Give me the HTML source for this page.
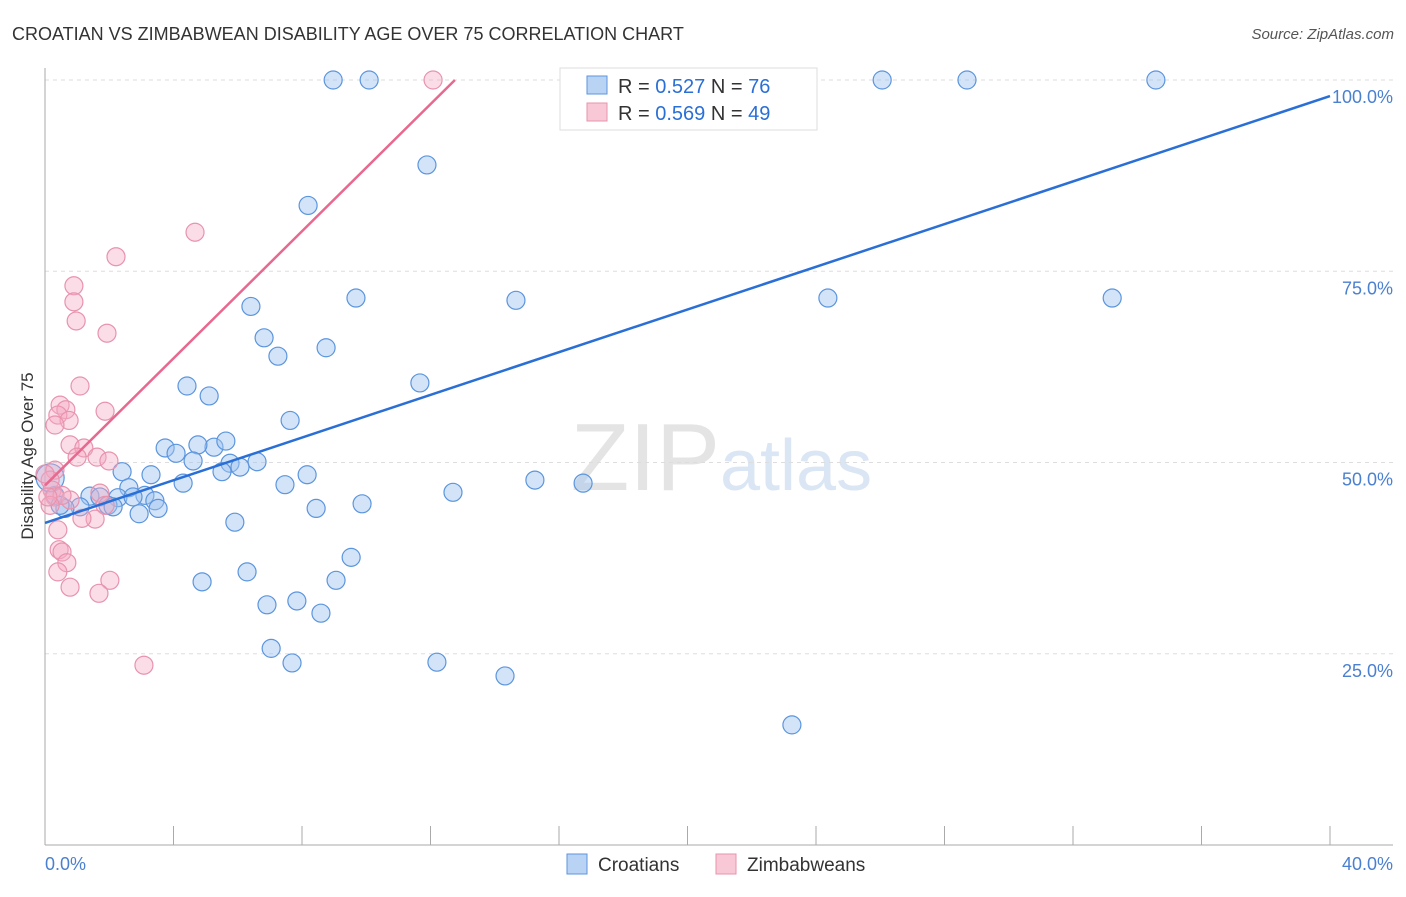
<!DOCTYPE html>
<html><head><meta charset="utf-8"><style>
body{margin:0;background:#fff;font-family:"Liberation Sans",sans-serif;}
svg text{font-family:"Liberation Sans",sans-serif;}
</style></head><body>
<svg id="chart" width="1406" height="892" xmlns="http://www.w3.org/2000/svg">
<text x="12" y="40" font-size="18" fill="#333">CROATIAN VS ZIMBABWEAN DISABILITY AGE OVER 75 CORRELATION CHART</text>
<text x="1394" y="39" font-size="15" fill="#555" text-anchor="end" font-style="italic">Source: ZipAtlas.com</text>
<text x="720" y="490" font-size="96" fill="#e4e4e4" text-anchor="end" font-family="Liberation Serif">ZIP</text>
<text x="720" y="490" font-size="72" fill="#dbe6f5">atlas</text>
<g id="grid"></g>
<g id="pts"></g>
<g id="lines"></g>
<g>
<rect x="560" y="68" width="257" height="62" fill="#fff" stroke="#ddd"/>
<rect x="587" y="76" width="20" height="18" fill="#b9d3f5" stroke="#5b95de"/>
<text x="618" y="93" font-size="20" fill="#333">R = <tspan fill="#2a6fd6">0.527</tspan>   N = <tspan fill="#2a6fd6">76</tspan></text>
<rect x="587" y="103" width="20" height="18" fill="#f9c8d6" stroke="#e893ae"/>
<text x="618" y="120" font-size="20" fill="#333">R = <tspan fill="#2a6fd6">0.569</tspan>   N = <tspan fill="#2a6fd6">49</tspan></text>
</g>
<g>
<rect x="567" y="854" width="20" height="20" fill="#b9d3f5" stroke="#5b95de"/>
<text x="598" y="871" font-size="19" fill="#333">Croatians</text>
<rect x="716" y="854" width="20" height="20" fill="#f9c8d6" stroke="#e893ae"/>
<text x="747" y="871" font-size="19" fill="#333">Zimbabweans</text>
</g>
<text x="45" y="870" font-size="18" fill="#4a80d0">0.0%</text>
<text x="1393" y="870" font-size="18" fill="#4a80d0" text-anchor="end">40.0%</text>
<text transform="translate(33,456) rotate(-90)" font-size="17" fill="#333" text-anchor="middle">Disability Age Over 75</text>
</svg>
<script>
const yTicks=[25,50,75,100];
const yTickLabels=["25.0%","50.0%","75.0%","100.0%"];
const xTicks=[0,4,8,12,16,20,24,28,32,36,40];
const croX=[8.97,10.09,22.26,26.06,28.70,34.58,22.54,11.89,8.19,9.68,14.66,24.37,33.22,6.41,6.82,7.25,8.75,4.42,11.67,5.11,7.63,3.74,4.08,5.26,5.63,4.76,4.61,5.76,6.07,6.60,5.51,8.16,2.40,3.30,4.30,7.47,15.25,16.75,12.70,2.61,3.11,1.40,1.71,2.27,2.74,3.42,3.52,1.96,2.12,1.09,0.62,9.87,8.44,2.93,5.91,4.89,6.29,9.06,9.53,6.91,7.84,8.59,7.04,7.69,12.20,14.32,23.25,0.31,0.47,0.16];
const croY=[100,100,100,100,100,100,95.7,88.9,83.6,71.5,71.2,71.5,71.5,70.4,66.3,63.9,65.0,60.0,60.4,58.7,55.5,51.9,51.2,52.0,52.8,52.3,50.2,49.9,49.4,50.1,48.8,48.4,48.8,48.4,47.3,47.1,47.7,47.3,46.1,46.7,45.7,45.6,45.5,45.4,45.5,45.0,44.0,44.4,44.2,44.2,44.0,44.6,44.0,43.3,42.2,34.4,35.7,34.6,37.6,31.4,31.9,30.3,25.7,23.8,23.9,22.1,15.7,45.7,44.4,48.0];
const zimX=[12.08,4.67,2.21,0.90,0.90,0.97,1.93,1.09,0.47,0.65,0.40,0.75,1.87,0.31,0.78,1.21,1.62,1.00,1.99,0.31,0.16,0.22,0.31,0.78,1.71,0.53,1.87,0.16,1.56,1.15,0.40,0.44,0.53,0.68,0.40,2.02,0.78,1.68,3.08,0,0.09];
const zimY=[100,80.1,76.9,73.1,71.0,68.5,66.9,60.0,57.5,56.9,56.2,55.5,56.7,54.9,52.3,51.9,50.7,50.7,50.2,49.0,47.7,46.4,45.5,45.1,46.0,45.7,44.4,44.4,42.6,42.7,41.2,38.6,38.3,36.9,35.7,34.6,33.7,32.9,23.5,48.5,45.5];
const croLine=[[0,42.1],[40,97.9]];
const zimLine=[[0,47.0],[12.76,100]];
const NS="http://www.w3.org/2000/svg";
const sx=v=>45+v/40*1285, sy=v=>845-v/100*765;
function mk(tag,attrs,parent){const e=document.createElementNS(NS,tag);for(const k in attrs)e.setAttribute(k,attrs[k]);parent.appendChild(e);return e;}
const grid=document.getElementById('grid');
yTicks.forEach((t,i)=>{
 const l=mk('line',{x1:45,x2:1393,y1:sy(t),y2:sy(t),stroke:'#ddd','stroke-dasharray':'4,4'},grid);
 
 
 const tx=mk('text',{x:1393,y:sy(t)+23,'font-size':18,fill:'#4a80d0','text-anchor':'end'},grid);
 tx.textContent=yTickLabels[i];
 
 
});
const ax=mk('line',{x1:45,x2:45,y1:68,y2:845,stroke:'#aaa'},grid);


const bx=mk('line',{x1:45,x2:1393,y1:845,y2:845,stroke:'#aaa'},grid);


xTicks.forEach(t=>{
 const l=mk('line',{x1:sx(t),x2:sx(t),y1:826,y2:845,stroke:'#aaa'},grid);
 
 
});
const pts=document.getElementById('pts');
croX.forEach((x,i)=>{
 const big=(i===croX.length-1);
 const c=mk('circle',{cx:sx(x),cy:sy(croY[i]),r:big?14:9,fill:'rgba(160,196,240,0.45)',stroke:'#5b95de','stroke-width':1.2},pts);
 
 
});
zimX.forEach((x,i)=>{
 const c=mk('circle',{cx:sx(x),cy:sy(zimY[i]),r:9,fill:'rgba(245,170,195,0.4)',stroke:'#e893ae','stroke-width':1.2},pts);
 
 
});
const lines=document.getElementById('lines');
const l1=mk('line',{x1:sx(croLine[0][0]),y1:sy(croLine[0][1]),x2:sx(croLine[1][0]),y2:sy(croLine[1][1]),stroke:'#2a6fd6','stroke-width':2.5},lines);


const l2=mk('line',{x1:sx(zimLine[0][0]),y1:sy(zimLine[0][1]),x2:sx(zimLine[1][0]),y2:sy(zimLine[1][1]),stroke:'#e8688f','stroke-width':2.5},lines);


</script>
</body></html>
